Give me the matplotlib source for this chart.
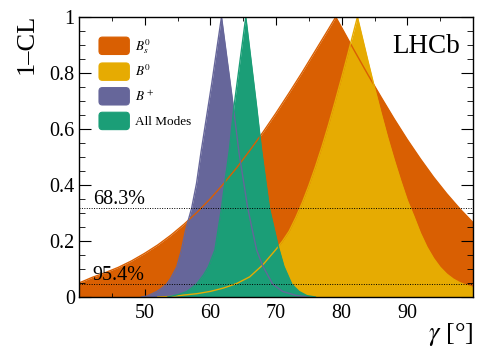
'''1-CL scan of gamma for the B decay modes, LHCb style
'''
import matplotlib
matplotlib.use("Agg")
import matplotlib.pyplot as plt
from matplotlib.patches import Patch, FancyBboxPatch
from matplotlib.legend_handler import HandlerPatch
from matplotlib.ticker import MultipleLocator, FixedLocator, FuncFormatter

# gamma [deg] and 1-CL for each curve
bs_x = [40, 42, 44, 46, 48, 50, 52, 54, 56, 58, 60, 62, 64, 66, 68, 70,
        72, 74, 76, 78, 79.1, 80, 82, 84, 86, 88, 90, 92, 94, 96, 98, 100]
bs_y = [0.05, 0.07, 0.087, 0.106, 0.129, 0.156, 0.186, 0.221, 0.26, 0.303,
        0.351, 0.404, 0.461, 0.523, 0.588, 0.657, 0.729, 0.803, 0.88, 0.957,
        1.0, 0.962, 0.877, 0.794, 0.714, 0.636, 0.562, 0.493, 0.428, 0.369,
        0.315, 0.266]

b0_x = [52, 54, 56, 58, 60, 62, 64, 66, 68, 70, 71, 72, 73, 74, 75, 76, 77,
        78, 79, 80, 81, 82.4, 83, 84, 85, 86, 87, 88, 89, 90, 91, 92, 93, 94,
        95, 96, 97, 98, 99, 100]
b0_y = [0.0, 0.002, 0.007, 0.012, 0.02, 0.032, 0.048, 0.072, 0.115, 0.17,
        0.2, 0.235, 0.283, 0.337, 0.398, 0.465, 0.537, 0.615, 0.698, 0.784,
        0.873, 1.0, 0.941, 0.843, 0.748, 0.657, 0.57, 0.49, 0.415, 0.345,
        0.288, 0.228, 0.178, 0.138, 0.106, 0.082, 0.064, 0.051, 0.042, 0.034]

bp_x = [49.5, 50.3, 51.0, 51.8, 52.5, 53.35, 54.0, 54.9, 55.6, 56.2, 56.65,
        57.15, 57.9, 58.6, 60.2, 61.7, 63.5, 64.4, 65.1, 65.7, 66.3, 67.05,
        68.0, 69.5, 71.0, 73.0, 75.0]
bp_y = [0.0, 0.003, 0.01, 0.019, 0.03, 0.046, 0.068, 0.108, 0.168, 0.235,
        0.275, 0.317, 0.406, 0.52, 0.76, 1.0, 0.68, 0.51, 0.407, 0.317, 0.25,
        0.168, 0.11, 0.046, 0.02, 0.006, 0.0]

am_x = [53.5, 54.1, 55.3, 56.4, 57.9, 59.0, 59.7, 60.7, 61.7, 62.2, 62.9,
        63.6, 65.4, 67.05, 67.8, 69.0, 70.35, 71.2, 72.4, 73.5, 74.7, 76.0]
am_y = [0.0, 0.003, 0.01, 0.019, 0.046, 0.08, 0.108, 0.168, 0.317, 0.407,
        0.525, 0.68, 1.0, 0.68, 0.525, 0.317, 0.18, 0.11, 0.046, 0.02, 0.005, 0.0]

labels = [r'$B_s^0$', r'$B^0$', r'$B^+$', 'All Modes']
colors = ['#d95f02', '#e6ab02', '#66669a', '#1b9e77']
cl_levels = [0.317, 0.046]
cl_labels = ['68.3%', '95.4%']
x_ticks = [50, 60, 70, 80, 90]

plt.rcParams['font.family'] = ['Liberation Serif', 'DejaVu Serif']
plt.rcParams['mathtext.fontset'] = 'stix'

fig = plt.figure(figsize=(4.98, 3.58), dpi=100)
ax = fig.add_axes([79/498, 61/358, 394/498, 280/358])

curves = [(bs_x, bs_y), (b0_x, b0_y), (bp_x, bp_y), (am_x, am_y)]
for i, ((x, y), c) in enumerate(zip(curves, colors)):
    ax.fill_between(x, y, 0, color=c, lw=0, zorder=1 + i)
for (x, y), c in zip(curves, colors):
    ax.plot(x, y, color=c, lw=1.0, zorder=6)

for lev, txt in zip(cl_levels, cl_labels):
    ax.axhline(lev, color='black', ls=(0, (1, 1.5)), lw=0.7, zorder=7)
    ax.text(42.1, lev + 0.016, txt, fontsize=14.5, va='baseline', zorder=8)

ax.set_xlim(40, 100)
ax.set_ylim(0, 1)
ax.xaxis.set_major_locator(FixedLocator(x_ticks))
ax.xaxis.set_minor_locator(MultipleLocator(5))
ax.yaxis.set_major_locator(MultipleLocator(0.2))
ax.yaxis.set_minor_locator(MultipleLocator(0.05))
ax.yaxis.set_major_formatter(FuncFormatter(lambda v, p: f'{v:g}'))
ax.tick_params(which='both', direction='in', top=True, right=True,
               labelsize=14.5)
ax.tick_params(axis='x', which='major', length=6, pad=5)
ax.tick_params(axis='x', which='minor', length=3)
ax.tick_params(axis='y', which='major', length=8.5, pad=3)
ax.tick_params(axis='y', which='minor', length=4.5)
for s in ax.spines.values():
    s.set_zorder(10)
    s.set_linewidth(1.0)

fig.text(26.5/498, 1 - 14/358, '1\u2013CL', rotation=90, fontsize=19,
         ha='center', va='top')
fig.text(473/498, 1 - 321/358, r'$\gamma$ [°]', fontsize=19,
         ha='right', va='top')
ax.text(0.968, 0.94, 'LHCb', transform=ax.transAxes, fontsize=19.5,
        ha='right', va='top', zorder=9)


def round_box(legend, orig_handle, xdescent, ydescent, width, height, fontsize):
    return FancyBboxPatch((-xdescent, -ydescent), width, height,
                          boxstyle='round,pad=0,rounding_size=2.5')


handles = [Patch(facecolor=c, edgecolor=c, lw=0.8) for c in colors]
leg = ax.legend(handles, labels, loc='upper left', frameon=False,
                bbox_to_anchor=(99/498, 1 - 37/358),
                bbox_transform=fig.transFigure,
                borderpad=0, borderaxespad=0, fontsize=9.5,
                handlelength=2.3, handleheight=1.65, labelspacing=0.55,
                handletextpad=0.45,
                handler_map={Patch: HandlerPatch(patch_func=round_box)})
leg.set_zorder(9)

fig.savefig('out.png', dpi=100)
